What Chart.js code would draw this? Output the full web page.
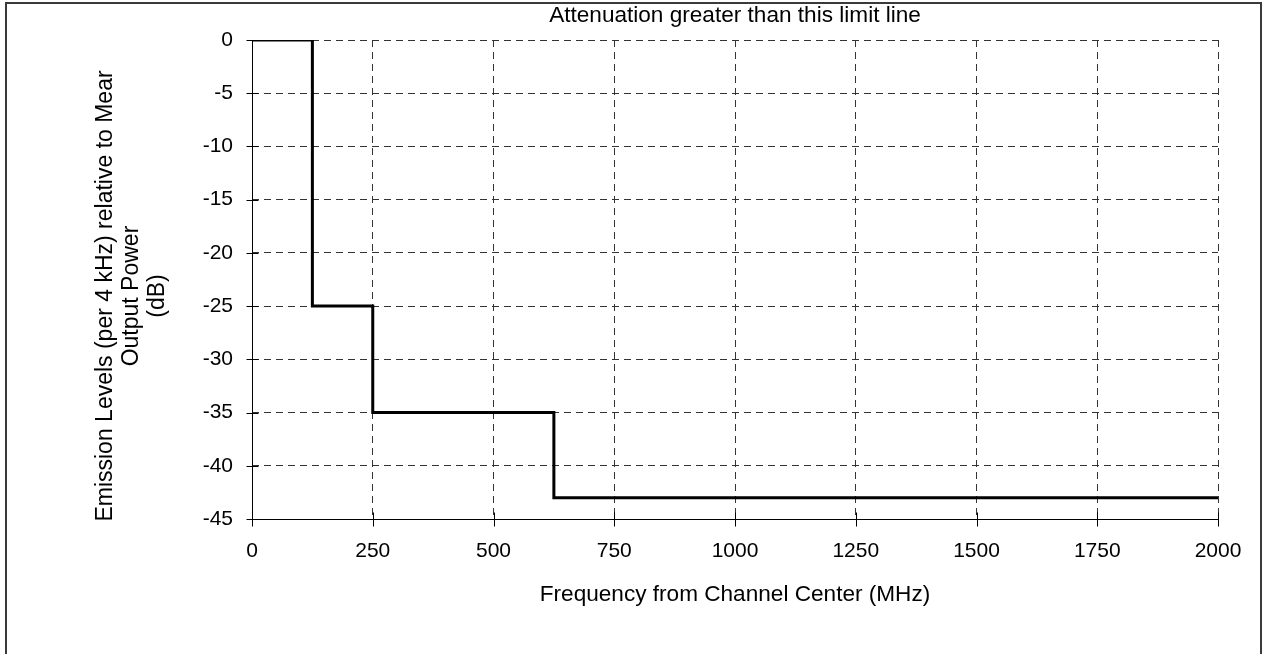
<!DOCTYPE html>
<html>
<head>
<meta charset="utf-8">
<script src="https://cdn.jsdelivr.net/npm/chart.js@4.4.1/dist/chart.umd.min.js"></script>
<style>
  html, body { margin: 0; padding: 0; background: #fff; }
  #wrap { width: 1265px; height: 654px; position: relative; }
</style>
</head>
<body>
<div id="wrap"><canvas id="limitChart"></canvas></div>
<script>
// Data
const freqEdges = [0, 125, 250, 625, 2000];      // MHz from channel center
const limitDb = [0, -25, -35, -43, -43];         // dB relative to mean output power
const xTicks = [0, 250, 500, 750, 1000, 1250, 1500, 1750, 2000];
const yTicks = [0, -5, -10, -15, -20, -25, -30, -35, -40, -45];
const yTitleLines = ['Emission Levels (per 4 kHz) relative to Mear', 'Output Power', '(dB)'];

const FONT = '"Liberation Sans", Arial, sans-serif';

// White background and the outer frame
const framePlugin = {
    id: 'frame',
    beforeDraw(chart) {
        const ctx = chart.ctx;
        ctx.save();
        ctx.fillStyle = '#fff';
        ctx.fillRect(0, 0, chart.width, chart.height);
        ctx.strokeStyle = '#3a3a3a';
        ctx.lineWidth = 2;
        ctx.strokeRect(6, 3, 1255, 670);
        ctx.restore();
    }
};

// Solid axis lines, tick marks crossing them, and the y axis title
const axisPlugin = {
    id: 'axisDecor',
    afterDraw(chart) {
        const ctx = chart.ctx;
        const x = chart.scales.x;
        const y = chart.scales.y;
        const area = chart.chartArea;
        const left = Math.round(area.left) + 0.5;
        const bottom = Math.round(area.bottom) + 0.5;
        ctx.save();
        ctx.strokeStyle = '#000';
        ctx.lineWidth = 1;
        ctx.setLineDash([]);
        ctx.beginPath();
        ctx.moveTo(left, area.top);
        ctx.lineTo(left, bottom);
        ctx.lineTo(area.right, bottom);
        xTicks.forEach(v => {
            const px = Math.round(x.getPixelForValue(v)) + 0.5;
            ctx.moveTo(px, bottom - 7);
            ctx.lineTo(px, bottom + 7);
        });
        yTicks.forEach(v => {
            const py = Math.round(y.getPixelForValue(v)) + 0.5;
            ctx.moveTo(left - 6, py);
            ctx.lineTo(left + 6, py);
        });
        ctx.stroke();

        // y axis title, three centred lines
        ctx.fillStyle = '#000';
        ctx.font = '23px ' + FONT;
        ctx.textAlign = 'center';
        ctx.textBaseline = 'middle';
        ctx.translate(106, 296);
        ctx.rotate(-Math.PI / 2);
        yTitleLines.forEach((line, i) => {
            ctx.fillText(line, 0, i * 26);
        });
        ctx.restore();
    }
};

const chartCanvas = document.getElementById('limitChart');

const limitChart = new Chart(chartCanvas.getContext('2d'), {
    type: 'line',
    data: {
        datasets: [{
            label: 'Limit',
            data: freqEdges.map((f, i) => ({ x: f, y: limitDb[i] })),
            borderColor: '#000',
            borderWidth: 3,
            pointRadius: 0,
            stepped: 'before',
            fill: false,
            clip: 0
        }]
    },
    options: {
        responsive: true,
        maintainAspectRatio: false,
        animation: false,
        layout: {
            padding: { left: 0, right: 47, top: 0, bottom: 0 }
        },
        scales: {
            x: {
                type: 'linear',
                min: 0,
                max: 2000,
                afterBuildTicks: scale => { scale.ticks = xTicks.map(v => ({ value: v })); },
                afterFit: scale => { scale.height = 135; },
                ticks: {
                    color: '#000',
                    font: { family: FONT, size: 21 },
                    padding: 20,
                    maxRotation: 0,
                    callback: v => String(v)
                },
                grid: {
                    color: '#333',
                    lineWidth: 1,
                    drawTicks: false
                },
                border: { display: false, dash: [7, 5] },
                title: {
                    display: true,
                    text: 'Frequency from Channel Center (MHz)',
                    color: '#000',
                    font: { family: FONT, size: 22.6, lineHeight: 1.2 },
                    padding: { top: 0, bottom: 46 }
                }
            },
            y: {
                type: 'linear',
                min: -45,
                max: 0,
                afterBuildTicks: scale => { scale.ticks = yTicks.map(v => ({ value: v })); },
                afterFit: scale => { scale.width = 252; },
                ticks: {
                    color: '#000',
                    font: { family: FONT, size: 21 },
                    padding: 19,
                    callback: v => String(v)
                },
                grid: {
                    color: '#333',
                    lineWidth: 1,
                    drawTicks: false
                },
                border: { display: false, dash: [7, 5] }
            }
        },
        plugins: {
            legend: { display: false },
            tooltip: { enabled: false },
            title: {
                display: true,
                text: 'Attenuation greater than this limit line',
                color: '#000',
                fullSize: false,
                font: { family: FONT, size: 22.6, weight: 'normal', lineHeight: 1.2 },
                padding: { top: 2.5, bottom: 10.4 }
            }
        }
    },
    plugins: [framePlugin, axisPlugin]
});
</script>
</body>
</html>
